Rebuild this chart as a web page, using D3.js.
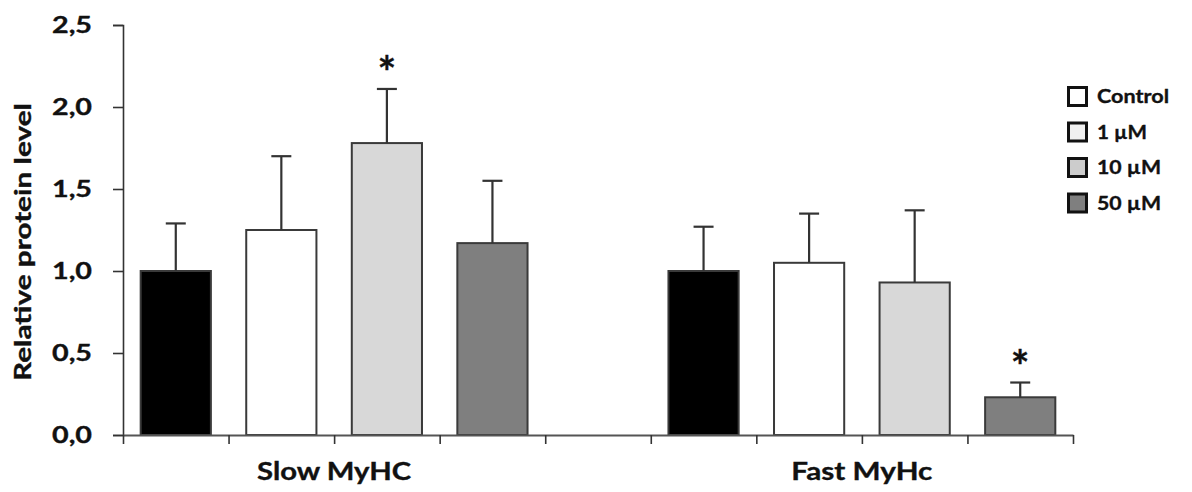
<!DOCTYPE html>
<html>
<head>
<meta charset="utf-8">
<script src="https://cdn.jsdelivr.net/npm/d3@7"></script>
<style>
  html, body { margin: 0; padding: 0; background: #fff; }
  svg { display: block; }
  text { font-family: Lato, "Open Sans", sans-serif; font-weight: 700; fill: #111; stroke: #111; stroke-width: 0.35px; }
</style>
</head>
<body>
<svg id="chart" width="1192" height="492"></svg>
<script>
// Relative protein level of slow and fast MyHC per treatment (mean + SD)
const groups = ["Slow MyHC", "Fast MyHc"];
const treatments = ["Control", "1 µM", "10 µM", "50 µM"];
const slowMeans = [1.00, 1.25, 1.78, 1.17];
const slowErrors = [0.29, 0.45, 0.33, 0.38];
const fastMeans = [1.00, 1.05, 0.93, 0.23];
const fastErrors = [0.27, 0.30, 0.44, 0.09];
const slowSignificant = [false, false, true, false];
const fastSignificant = [false, false, false, true];
const yTicks = [0, 0.5, 1.0, 1.5, 2.0, 2.5];
const yTickLabels = ["0,0", "0,5", "1,0", "1,5", "2,0", "2,5"];
const yTitle = "Relative protein level";

const barFills = ["#000000", "#ffffff", "#d8d8d8", "#7f7f7f"];
const legendFills = ["#ffffff", "#f0f0f0", "#cccccc", "#7f7f7f"];

const svg = d3.select("#chart");
const plot = { left: 123, right: 1073, top: 25, bottom: 435 };

// nine slots: four bars, an empty slot, four bars
const slotCount = treatments.length * 2 + 1;
const x = d3.scaleBand()
  .domain(d3.range(slotCount))
  .range([plot.left, plot.right])
  .paddingInner(0.335)
  .paddingOuter(0.1675);
const xEdge = d3.scaleLinear().domain([0, slotCount]).range([plot.left, plot.right]);
const y = d3.scaleLinear().domain([0, 2.5]).range([plot.bottom, plot.top]);

const rows = [];
[[slowMeans, slowErrors, slowSignificant], [fastMeans, fastErrors, fastSignificant]]
  .forEach(([means, errs, sig], g) => {
    means.forEach((m, i) => rows.push({
      slot: g * (treatments.length + 1) + i, t: i, mean: m, err: errs[i], star: sig[i]
    }));
  });

// bars
svg.append("g").selectAll("rect").data(rows).join("rect")
  .attr("x", d => x(d.slot))
  .attr("y", d => y(d.mean))
  .attr("width", x.bandwidth())
  .attr("height", d => y(0) - y(d.mean))
  .attr("fill", d => barFills[d.t])
  .attr("stroke", "#3a3a3a")
  .attr("stroke-width", 2);

// error bars (upper only)
const eb = svg.append("g").attr("stroke", "#333").attr("stroke-width", 2.2);
rows.forEach(d => {
  const cx = x(d.slot) + x.bandwidth() / 2;
  eb.append("line").attr("x1", cx).attr("x2", cx)
    .attr("y1", y(d.mean)).attr("y2", y(d.mean + d.err));
  eb.append("line").attr("x1", cx - 10).attr("x2", cx + 10)
    .attr("y1", y(d.mean + d.err)).attr("y2", y(d.mean + d.err));
});

// significance marks
svg.append("g").selectAll("text").data(rows.filter(d => d.star)).join("text")
  .attr("x", d => x(d.slot) + x.bandwidth() / 2)
  .attr("y", d => y(d.mean + d.err) - 1)
  .attr("text-anchor", "middle")
  .style("font-size", "44px")
  .text("*");

// y axis
const yAxis = svg.append("g")
  .attr("transform", `translate(${plot.left},0)`)
  .call(d3.axisLeft(y).tickValues(yTicks)
    .tickFormat((d, i) => yTickLabels[i]).tickSize(10).tickPadding(21));
yAxis.select(".domain").attr("stroke", "#333").attr("stroke-width", 1.6);
yAxis.selectAll(".tick line").attr("stroke", "#333").attr("stroke-width", 1.6);
yAxis.selectAll(".tick text")
  .attr("fill", "#111")
  .style("font-size", "23px")
  .attr("textLength", 40)
  .attr("lengthAdjust", "spacingAndGlyphs");

// x axis: ticks on the slot boundaries
const xAxis = svg.append("g")
  .attr("transform", `translate(0,${plot.bottom})`)
  .call(d3.axisBottom(xEdge).tickValues(d3.range(slotCount + 1))
    .tickFormat("").tickSize(9).tickSizeOuter(0));
xAxis.select(".domain").attr("stroke", "#555").attr("stroke-width", 1.8);
xAxis.selectAll(".tick line").attr("stroke", "#333").attr("stroke-width", 1.6);

// group labels
const groupWidths = [154, 141];
groups.forEach((g, k) => {
  const first = k * (treatments.length + 1);
  const cx = (xEdge(first) + xEdge(first + treatments.length)) / 2;
  svg.append("text")
    .attr("x", cx)
    .attr("y", 480)
    .attr("text-anchor", "middle")
    .style("font-size", "24px")
    .attr("textLength", groupWidths[k])
    .attr("lengthAdjust", "spacingAndGlyphs")
    .text(g);
});

// y axis title
svg.append("text")
  .attr("transform", `translate(31,242) rotate(-90)`)
  .attr("text-anchor", "middle")
  .style("font-size", "22px")
  .attr("textLength", 278)
  .attr("lengthAdjust", "spacingAndGlyphs")
  .text(yTitle);

// legend
const legendWidths = [72, 50, 64, 64];
const legend = svg.append("g").attr("transform", "translate(1067,86)");
treatments.forEach((t, i) => {
  const row = legend.append("g").attr("transform", `translate(0,${i * 35.5})`);
  row.append("rect")
    .attr("x", 1.5).attr("y", 1.5).attr("width", 18).attr("height", 18)
    .attr("fill", legendFills[i])
    .attr("stroke", "#111").attr("stroke-width", 3);
  row.append("text")
    .attr("x", 30).attr("y", 17)
    .style("font-size", "19px")
    .attr("textLength", legendWidths[i])
    .attr("lengthAdjust", "spacingAndGlyphs")
    .text(t);
});
</script>
</body>
</html>
